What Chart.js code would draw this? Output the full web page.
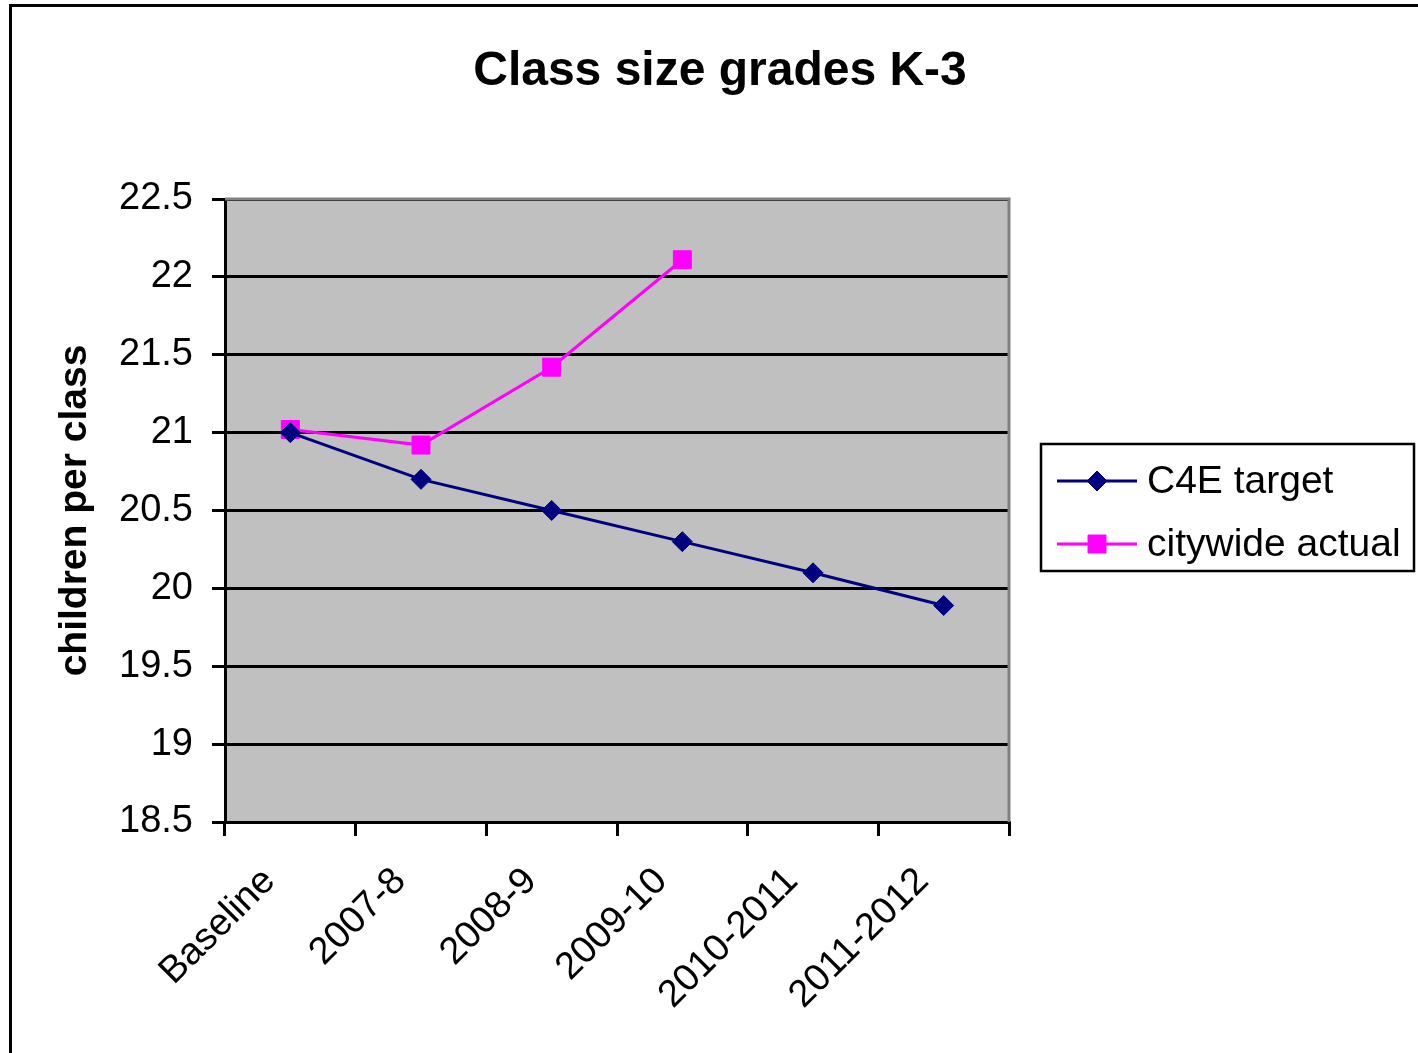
<!DOCTYPE html>
<html>
<head>
<meta charset="utf-8">
<script src="https://cdn.jsdelivr.net/npm/chart.js@4.4.1/dist/chart.umd.min.js"></script>
<style>
  html, body { margin: 0; padding: 0; background: #fff; }
  #wrap { width: 1418px; height: 1053px; }
</style>
</head>
<body>
<div id="wrap"><canvas id="classChart" width="1418" height="1053"></canvas></div>
<script>
// data
const years = ["Baseline", "2007-8", "2008-9", "2009-10", "2010-2011", "2011-2012"];
const c4eTarget = [21.0, 20.7, 20.5, 20.3, 20.1, 19.89];
const citywideActual = [21.02, 20.92, 21.42, 22.11, null, null];
const chartTitle = "Class size grades K-3";
const yAxisTitle = "children per class";
const yMin = 18.5, yMax = 22.5, yStep = 0.5;

const FONT = "'Liberation Sans', Arial, sans-serif";

// frame, title, plot border and boxed legend (Excel look)
const excelDecor = {
  id: "excelDecor",
  beforeDraw(chart) {
    const { ctx, chartArea: a } = chart;
    ctx.save();
    ctx.fillStyle = "#C0C0C0";
    ctx.fillRect(a.left, a.top, a.right - a.left, a.bottom - a.top);
    ctx.restore();
  },
  afterDatasetsDraw(chart) {
    const { ctx, chartArea: a } = chart;
    ctx.save();
    // gray top/right edge of the plot area
    ctx.strokeStyle = "#808080";
    ctx.lineWidth = 3;
    ctx.beginPath();
    ctx.moveTo(a.left, a.top);
    ctx.lineTo(a.right, a.top);
    ctx.lineTo(a.right, a.bottom);
    ctx.stroke();
    ctx.restore();
  },
  afterDraw(chart) {
    const { ctx } = chart;
    ctx.save();
    // outer frame
    ctx.strokeStyle = "#000";
    ctx.lineWidth = 3;
    ctx.strokeRect(10.5, 5.5, 1420, 1060);

    // title
    ctx.fillStyle = "#000";
    ctx.font = "bold 48px " + FONT;
    ctx.textAlign = "center";
    ctx.textBaseline = "middle";
    ctx.fillText(chartTitle, 720, 72);

    // legend box
    const bx = 1041, by = 444, bw = 373, bh = 127;
    ctx.strokeStyle = "#000";
    ctx.lineWidth = 2.5;
    ctx.strokeRect(bx, by, bw, bh);
    const rows = [481, 544];
    chart.data.datasets.forEach((ds, i) => {
      const y = rows[i];
      ctx.strokeStyle = ds.borderColor;
      ctx.lineWidth = 3;
      ctx.beginPath();
      ctx.moveTo(1057, y);
      ctx.lineTo(1137, y);
      ctx.stroke();
      ctx.fillStyle = ds.backgroundColor;
      ctx.lineWidth = 1;
      Chart.helpers.drawPoint(ctx, {
        pointStyle: ds.pointStyle, radius: ds.pointRadius, borderWidth: 1
      }, 1097, y);
      ctx.fillStyle = "#000";
      ctx.font = "39px " + FONT;
      ctx.textAlign = "left";
      ctx.textBaseline = "middle";
      ctx.fillText(ds.label, 1147, y + 1);
    });
    ctx.restore();
  }
};

const ctx = document.getElementById("classChart").getContext("2d");
new Chart(ctx, {
  type: "line",
  data: {
    labels: years,
    datasets: [
      {
        label: "C4E target",
        data: c4eTarget,
        borderColor: "#000080",
        backgroundColor: "#000080",
        borderWidth: 3,
        pointStyle: "rectRot",
        pointRadius: 10,
        pointBorderWidth: 1,
        tension: 0
      },
      {
        label: "citywide actual",
        data: citywideActual,
        borderColor: "#FF00FF",
        backgroundColor: "#FF00FF",
        borderWidth: 3,
        pointStyle: "rect",
        pointRadius: 12.7,
        pointBorderWidth: 1,
        tension: 0,
        spanGaps: false
      }
    ]
  },
  options: {
    responsive: false,
    animation: false,
    devicePixelRatio: 1,
    layout: { padding: { left: 10, top: 199, right: 409, bottom: 0 } },
    plugins: {
      legend: { display: false },
      title: { display: false },
      tooltip: { enabled: false }
    },
    scales: {
      x: {
        offset: true,
        afterFit: (s) => { s.height = 1053 - 822; },
        grid: {
          offset: true,
          drawOnChartArea: false,
          drawTicks: true,
          tickLength: 14,
          color: "#000",
          lineWidth: 3
        },
        border: { color: "#000", width: 3 },
        ticks: {
          color: "#000",
          font: { family: FONT, size: 38 },
          maxRotation: 45,
          minRotation: 45,
          padding: 23,
          labelOffset: -21
        }
      },
      y: {
        min: yMin,
        max: yMax,
        afterFit: (s) => { s.width = 225 - 10; },
        grid: {
          color: "#000",
          lineWidth: 3,
          tickLength: 13,
          drawTicks: true
        },
        border: { color: "#000", width: 3 },
        ticks: {
          stepSize: yStep,
          color: "#000",
          padding: 19,
          font: { family: FONT, size: 38 },
          callback: (v) => String(v)
        },
        title: {
          display: true,
          text: yAxisTitle,
          color: "#000",
          font: { family: FONT, size: 39, weight: "bold" },
          padding: { top: 42, bottom: 0 }
        }
      }
    }
  },
  plugins: [excelDecor]
});
</script>
</body>
</html>
